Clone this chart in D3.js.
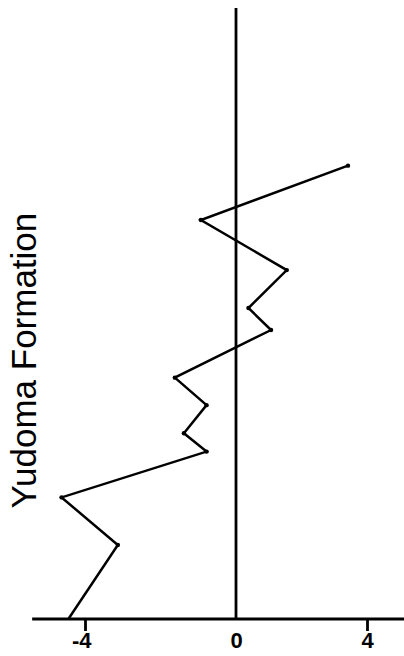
<!DOCTYPE html>
<html>
<head>
<meta charset="utf-8">
<script src="https://cdn.jsdelivr.net/npm/d3@7"></script>
<style>
  html, body { margin: 0; padding: 0; background: #fff; }
  svg { display: block; }
</style>
</head>
<body>
<svg id="chart" width="404" height="656"></svg>
<script>
// Data: x = isotope value, y = stratigraphic level (arbitrary units, 0 = base)
const xValues = [3.42, -0.93, 1.55, 0.38, 1.07, -1.62, -0.78, -1.38, -0.78, -4.62, -3.13, -4.44];
const yLevels = [74.2, 65.3, 57.1, 50.9, 47.3, 39.5, 35.0, 30.4, 27.4, 19.9, 12.1, 0];
const xTicks = [-4, 0, 4];
const tickLabels = ["-4", "0", "4"];
const yLabel = "Yudoma Formation";

const svg = d3.select("#chart");

const x = d3.scaleLinear().domain([-4, 0, 4]).range([85, 236, 367]);
const y = d3.scaleLinear().domain([0, 100]).range([619, 8]);

const data = xValues.map((v, i) => ({ x: v, y: yLevels[i] }));

// x axis baseline
svg.append("line")
  .attr("x1", x(-5.4)).attr("x2", x(5.3))
  .attr("y1", y(0)).attr("y2", y(0))
  .attr("stroke", "#000").attr("stroke-width", 2.8);

// zero line
svg.append("line")
  .attr("x1", x(0)).attr("x2", x(0))
  .attr("y1", y(0)).attr("y2", y(100))
  .attr("stroke", "#000").attr("stroke-width", 2.8);

// ticks and labels
const axis = d3.axisBottom(x)
  .tickValues(xTicks)
  .tickSize(12)
  .tickSizeOuter(0)
  .tickFormat((d, i) => tickLabels[i]);

const gAxis = svg.append("g")
  .attr("transform", `translate(0,${y(0)})`)
  .call(axis);
gAxis.attr("font-size", null).attr("font-family", null);
gAxis.select(".domain").remove();
gAxis.selectAll(".tick line")
  .attr("stroke", "#000")
  .attr("stroke-width", d => d === 0 ? 0 : 2.8);
gAxis.selectAll(".tick text")
  .attr("fill", "#000")
  .attr("y", 29)
  .attr("dy", 0)
  .style("font-family", "Liberation Sans, Arial, sans-serif")
  .style("font-weight", "bold")
  .style("font-size", "22px")
  .attr("text-anchor", d => d < 0 ? "end" : "middle")
  .attr("dx", d => d < 0 ? 6 : 0);

// data line
const line = d3.line().x(d => x(d.x)).y(d => y(d.y));
svg.append("path")
  .datum(data)
  .attr("d", line)
  .attr("fill", "none")
  .attr("stroke", "#000")
  .attr("stroke-width", 2.5)
  .attr("stroke-linejoin", "miter");

svg.selectAll("circle.pt")
  .data(data.slice(0, data.length - 1))
  .enter().append("circle")
  .attr("class", "pt")
  .attr("cx", d => x(d.x))
  .attr("cy", d => y(d.y))
  .attr("r", 2.2)
  .attr("fill", "#000");

// y label
svg.append("text")
  .attr("transform", `translate(36,${y(42.3)}) rotate(-90)`)
  .attr("text-anchor", "middle")
  .style("font-family", "Liberation Sans, Arial, sans-serif")
  .style("font-size", "35px")
  .attr("fill", "#000")
  .text(yLabel);
</script>
</body>
</html>
